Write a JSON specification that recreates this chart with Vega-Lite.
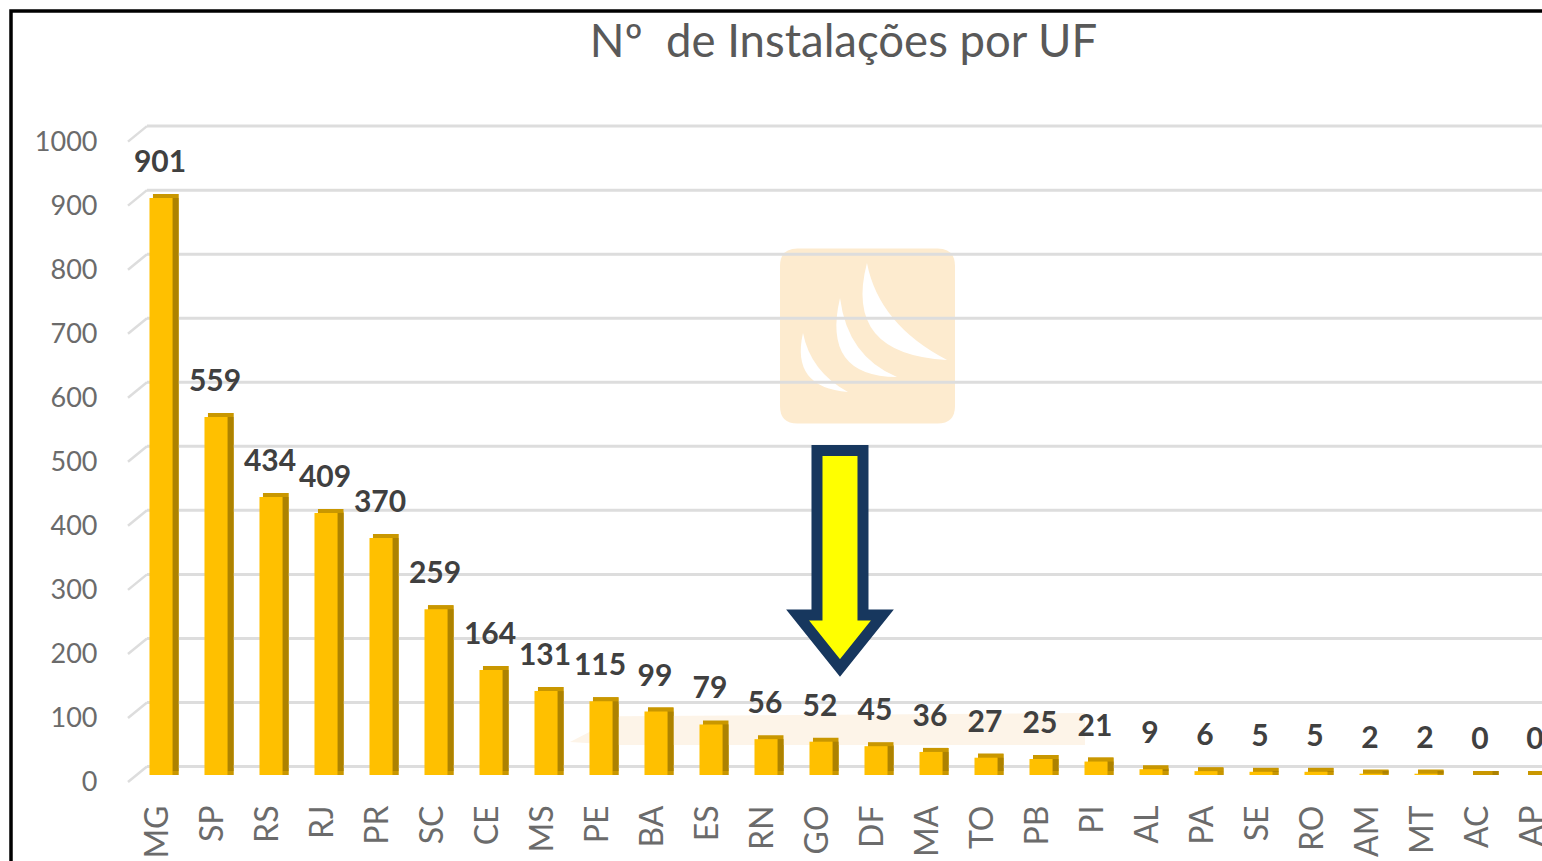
{
  "$schema": "https://vega.github.io/schema/vega-lite/v6.json",
  "width": 1531,
  "height": 850,
  "autosize": {"type": "none"},
  "padding": {"left": 11, "top": 11, "right": 0, "bottom": 0},
  "background": "white",
  "config": {
    "view": {"stroke": "black", "strokeWidth": 3.5, "strokeDash": [1531, 2381, 850], "strokeCap": "square"},
    "font": "Lato",
    "axis": {"grid": false}
  },
  "datasets": {
    "uf": [
      {"uf": "MG", "n": 901}, {"uf": "SP", "n": 559}, {"uf": "RS", "n": 434}, {"uf": "RJ", "n": 409},
      {"uf": "PR", "n": 370}, {"uf": "SC", "n": 259}, {"uf": "CE", "n": 164}, {"uf": "MS", "n": 131},
      {"uf": "PE", "n": 115}, {"uf": "BA", "n": 99}, {"uf": "ES", "n": 79}, {"uf": "RN", "n": 56},
      {"uf": "GO", "n": 52}, {"uf": "DF", "n": 45}, {"uf": "MA", "n": 36}, {"uf": "TO", "n": 27},
      {"uf": "PB", "n": 25}, {"uf": "PI", "n": 21}, {"uf": "AL", "n": 9}, {"uf": "PA", "n": 6},
      {"uf": "SE", "n": 5}, {"uf": "RO", "n": 5}, {"uf": "AM", "n": 2}, {"uf": "MT", "n": 2},
      {"uf": "AC", "n": 0}, {"uf": "AP", "n": 0}
    ],
    "grid": [
      {"v": 0}, {"v": 100}, {"v": 200}, {"v": 300}, {"v": 400}, {"v": 500},
      {"v": 600}, {"v": 700}, {"v": 800}, {"v": 900}, {"v": 1000}
    ],
    "arrow": [{"uf": "GO", "v": 337}],
    "logo": [{"uf": "GO", "v": 685.5}],
    "band": [{"uf": "GO", "v": 71.8}],
    "title": [{"uf": "GO", "v": 1121, "t": "Nº\u00a0 de Instalações por UF"}]
  },
  "layer": [
    {
      "data": {"name": "uf"},
      "mark": {"type": "bar", "width": 25.5, "xOffset": 26.25, "yOffset": -4, "y2Offset": 0, "color": "#C99700"},
      "encoding": {
        "x": {
          "field": "uf", "type": "nominal",
          "scale": {
            "domain": ["MG","SP","RS","RJ","PR","SC","CE","MS","PE","BA","ES","RN","GO","DF","MA","TO","PB","PI","AL","PA","SE","RO","AM","MT","AC","AP"],
            "paddingInner": 0, "paddingOuter": 0.918, "align": 1, "round": false
          },
          "axis": {
            "orient": "bottom", "offset": -56, "domain": false, "ticks": false, "tickSize": 0,
            "labelAngle": -90, "labelAlign": "right", "labelBaseline": "middle", "labelPadding": 0,
            "labelOffset": 18.5, "labelFont": "Lato", "labelFontSize": 32, "labelColor": "#6b6b6b",
            "title": null, "grid": false
          }
        },
        "y": {
          "field": "n", "type": "quantitative",
          "scale": {"domain": [-134.3, 1193.0], "nice": false, "zero": false},
          "axis": {
            "orient": "left", "offset": -86, "domain": false, "ticks": false, "tickSize": 0,
            "labelPadding": 0, "labelOffset": 8, "format": "d",
            "values": [0, 100, 200, 300, 400, 500, 600, 700, 800, 900, 1000],
            "grid": false, "title": null, "labelFont": "Lato", "labelFontSize": 27, "labelColor": "#6b6b6b"
          }
        },
        "y2": {"datum": 0}
      }
    },
    {
      "data": {"name": "title"},
      "mark": {"type": "text", "xOffset": 44, "font": "Lato", "fontSize": 45.5, "fontWeight": "normal", "color": "#595959", "baseline": "alphabetic", "align": "center"},
      "encoding": {
        "x": {"field": "uf", "type": "nominal"},
        "y": {"field": "v", "type": "quantitative"},
        "text": {"field": "t", "type": "nominal"}
      }
    },
    {
      "data": {"name": "logo"},
      "mark": {
        "type": "point",
        "shape": "M-0.8,-1L0.8,-1Q1,-1 1,-0.8L1,0.8Q1,1 0.8,1L-0.8,1Q-1,1 -1,0.8L-1,-0.8Q-1,-1 -0.8,-1Z",
        "size": 30625, "filled": true, "fill": "#FDEBCF", "strokeWidth": 0, "opacity": 1, "xOffset": 68
      },
      "encoding": {
        "x": {"field": "uf", "type": "nominal"},
        "y": {"field": "v", "type": "quantitative"}
      }
    },
    {
      "data": {"name": "logo"},
      "mark": {
        "type": "point",
        "shape": "M-0.006,-0.834Q-0.28,0.211 0.909,0.274Q0.131,-0.131 -0.006,-0.834ZM-0.314,-0.434Q-0.526,0.463 0.337,0.469Q-0.229,0.234 -0.314,-0.434ZM-0.737,-0.034Q-0.88,0.589 -0.223,0.64Q-0.651,0.406 -0.737,-0.034Z",
        "size": 30625, "filled": true, "fill": "#FFFFFF", "strokeWidth": 0, "opacity": 1, "xOffset": 68
      },
      "encoding": {
        "x": {"field": "uf", "type": "nominal"},
        "y": {"field": "v", "type": "quantitative"}
      }
    },
    {
      "data": {"name": "band"},
      "mark": {
        "type": "point",
        "shape": "M-1,0.05L-0.806,-0.05L1,-0.062L1,0.062L-0.806,0.062Z",
        "size": 265225, "filled": true, "fill": "#FDF4E8", "strokeWidth": 0, "opacity": 1, "xOffset": 28
      },
      "encoding": {
        "x": {"field": "uf", "type": "nominal"},
        "y": {"field": "v", "type": "quantitative"}
      }
    },
    {
      "data": {"name": "grid"},
      "mark": {"type": "rule", "color": "#DDDDDD", "strokeWidth": 3, "xOffset": 7.5, "yOffset": -8.5},
      "encoding": {
        "x": {"datum": "MG", "type": "nominal"},
        "x2": {"value": "width"},
        "y": {"field": "v", "type": "quantitative"}
      }
    },
    {
      "data": {"name": "grid"},
      "mark": {"type": "rule", "color": "#DDDDDD", "strokeWidth": 2.5, "xOffset": -11.5, "x2Offset": 7.5, "yOffset": 7, "y2Offset": -8.5},
      "encoding": {
        "x": {"datum": "MG", "type": "nominal"},
        "x2": {"datum": "MG"},
        "y": {"field": "v", "type": "quantitative"},
        "y2": {"field": "v"}
      }
    },
    {
      "data": {"name": "uf"},
      "mark": {"type": "bar", "width": 25.5, "xOffset": 26.25, "yOffset": -4, "y2Offset": 0, "color": "#C99700"},
      "encoding": {
        "x": {"field": "uf", "type": "nominal"},
        "y": {"field": "n", "type": "quantitative"},
        "y2": {"datum": 0}
      }
    },
    {
      "data": {"name": "uf"},
      "mark": {"type": "bar", "width": 6, "xOffset": 36, "y2Offset": -4, "color": "#AD8200"},
      "encoding": {
        "x": {"field": "uf", "type": "nominal"},
        "y": {"field": "n", "type": "quantitative"},
        "y2": {"datum": 0}
      }
    },
    {
      "data": {"name": "uf"},
      "mark": {"type": "bar", "width": 23, "xOffset": 21.5, "color": "#FFC000"},
      "encoding": {
        "x": {"field": "uf", "type": "nominal"},
        "y": {"field": "n", "type": "quantitative"},
        "y2": {"datum": 0}
      }
    },
    {
      "data": {"name": "uf"},
      "mark": {"type": "text", "xOffset": 20.5, "dy": -35, "font": "Lato", "fontSize": 30, "fontWeight": "bold", "color": "#404040", "baseline": "middle", "align": "center"},
      "encoding": {
        "x": {"field": "uf", "type": "nominal"},
        "y": {"field": "n", "type": "quantitative"},
        "text": {"field": "n", "type": "quantitative"}
      }
    },
    {
      "data": {"name": "arrow"},
      "mark": {
        "type": "point",
        "shape": "M-0.2115,-1L0.2115,-1L0.2115,0.513L0.39,0.513L0,1L-0.39,0.513L-0.2115,0.513Z",
        "size": 47306, "filled": true, "fill": "#FFFF00", "stroke": "#17375E", "strokeWidth": 11,
        "strokeJoin": "miter", "strokeMiterLimit": 10, "opacity": 1, "xOffset": 40.5
      },
      "encoding": {
        "x": {"field": "uf", "type": "nominal"},
        "y": {"field": "v", "type": "quantitative"}
      }
    }
  ]
}
